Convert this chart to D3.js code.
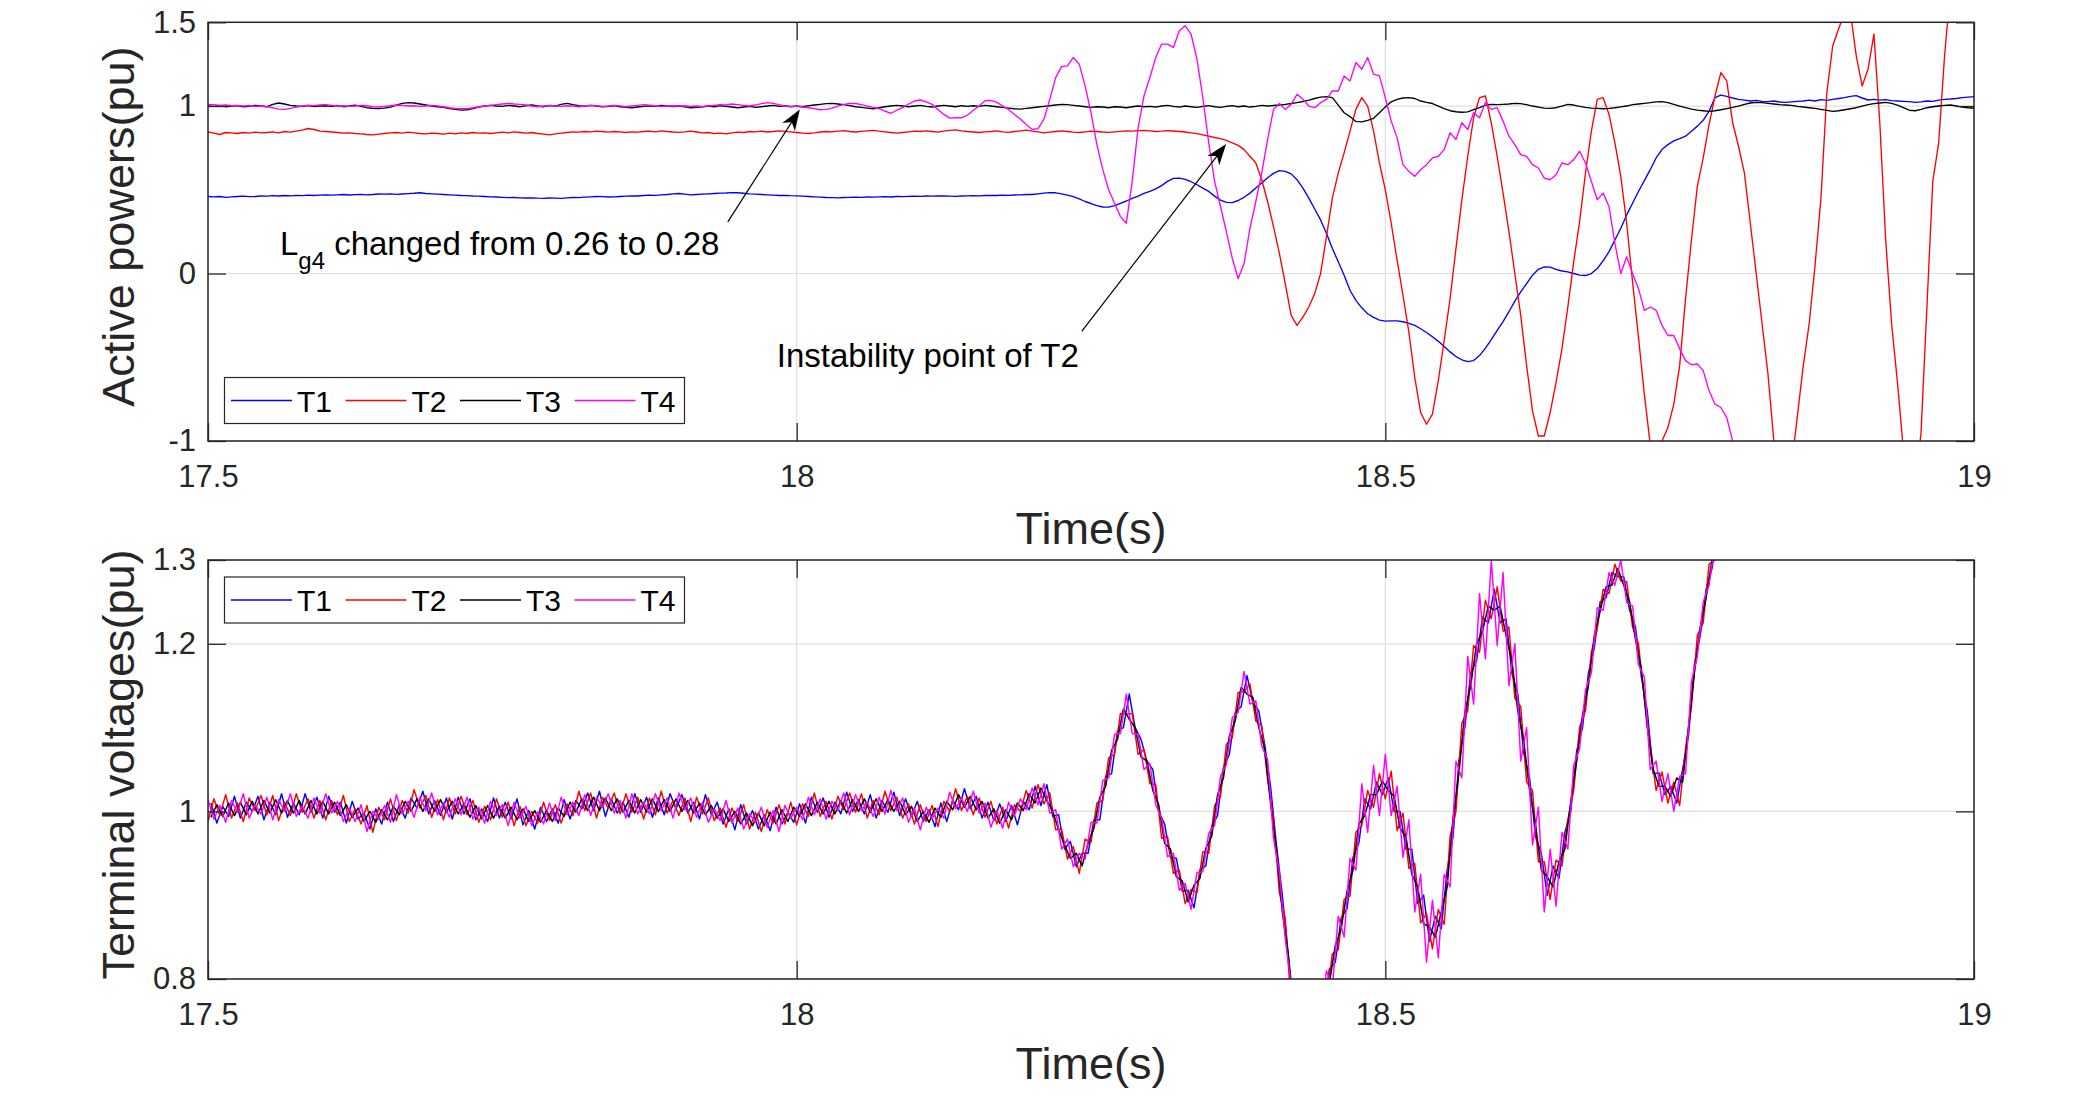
<!DOCTYPE html>
<html><head><meta charset="utf-8">
<script src="https://cdn.jsdelivr.net/npm/d3@7"></script>
<style>
body{margin:0;background:#fff}
text{font-family:"Liberation Sans",Arial,Helvetica,sans-serif}
</style>
</head><body>
<svg id="c" width="2080" height="1107"></svg>
<script>
// ---------------- DATA ----------------
const tStart = 17.5, tStep = 0.005;
const xTicks = [17.5, 18, 18.5, 19];
const pTicks = [-1, 0, 1, 1.5];
const vTicks = [0.8, 1, 1.2, 1.3];
const seriesNames = ["T1", "T2", "T3", "T4"];

// Active powers (pu), sampled every 0.005 s from 17.5 s
const p1 = [
.46,.458,.46,.455,.458,.46,.462,.459,.46,.463,
.462,.465,.463,.466,.464,.467,.465,.468,.466,.468,
.47,.468,.47,.472,.469,.471,.473,.47,.472,.475,
.474,.476,.473,.475,.477,.479,.482,.478,.476,.474,
.472,.47,.468,.466,.465,.463,.462,.46,.458,.457,
.455,.453,.454,.452,.451,.452,.45,.449,.451,.45,
.449,.452,.454,.453,.456,.458,.46,.459,.457,.458,
.46,.462,.464,.463,.466,.468,.467,.47,.472,.476,
.478,.474,.47,.472,.474,.476,.478,.48,.481,.483,
.482,.479,.476,.474,.472,.47,.468,.466,.467,.465,
.464,.462,.46,.458,.456,.454,.453,.452,.454,.455,
.456,.455,.457,.456,.458,.459,.457,.46,.459,.461,
.462,.461,.463,.462,.464,.463,.462,.461,.463,.464,
.465,.464,.466,.467,.466,.468,.467,.469,.47,.472,
.472,.476,.48,.483,.482,.476,.468,.459,.445,.43,
.418,.405,.397,.396,.405,.419,.433,.448,.462,.478,
.49,.505,.525,.55,.568,.57,.562,.548,.53,.51,
.49,.462,.438,.425,.423,.436,.455,.48,.51,.54,
.572,.598,.614,.61,.595,.56,.51,.45,.385,.32,
.24,.15,.07,-.01,-.1,-.16,-.205,-.24,-.262,-.278,
-.284,-.283,-.283,-.288,-.298,-.31,-.33,-.352,-.378,-.405,
-.436,-.468,-.496,-.515,-.526,-.52,-.49,-.445,-.395,-.34,
-.287,-.228,-.165,-.11,-.06,-.01,.025,.04,.038,.025,
.015,.01,0,-.01,-.012,0,.03,.075,.131,.2,
.27,.35,.42,.49,.555,.62,.69,.74,.77,.792,
.805,.82,.85,.88,.915,.97,1.05,1.065,1.058,1.048,
1.04,1.035,1.03,1.034,1.028,1.026,1.03,1.024,1.022,1.025,
1.028,1.03,1.035,1.03,1.038,1.034,1.04,1.045,1.05,1.058,
1.062,1.048,1.036,1.04,1.035,1.038,1.032,1.03,1.028,1.026,
1.022,1.025,1.03,1.028,1.035,1.04,1.042,1.045,1.05,1.053,
1.056];
const p2 = [
.845,.838,.83,.842,.84,.836,.842,.838,.844,.84,
.842,.846,.84,.848,.844,.85,.856,.866,.86,.85,
.848,.845,.842,.838,.84,.836,.834,.83,.828,.832,
.836,.84,.842,.838,.844,.84,.836,.834,.838,.836,
.832,.838,.834,.84,.836,.842,.838,.84,.836,.84,
.844,.84,.846,.842,.838,.842,.836,.832,.828,.834,
.838,.842,.846,.844,.848,.846,.85,.848,.844,.848,
.846,.842,.846,.844,.848,.85,.846,.852,.848,.845,
.843,.846,.85,.845,.84,.842,.835,.838,.834,.84,
.844,.842,.848,.846,.85,.845,.848,.852,.849,.846,
.842,.838,.836,.84,.845,.848,.846,.85,.853,.848,
.845,.849,.852,.855,.85,.846,.842,.838,.842,.846,
.85,.848,.852,.848,.844,.85,.855,.858,.852,.848,
.845,.842,.846,.848,.852,.846,.843,.848,.852,.856,
.85,.846,.84,.844,.848,.852,.848,.844,.842,.846,
.85,.848,.845,.843,.846,.849,.852,.85,.853,.855,
.852,.848,.85,.853,.851,.848,.845,.84,.835,.828,
.82,.812,.805,.795,.78,.765,.74,.7,.66,.56,
.43,.28,.12,-.06,-.25,-.31,-.26,-.2,-.12,0,
.22,.45,.6,.72,.85,.98,1.05,1.0,.85,.66,
.5,.3,.08,-.13,-.35,-.62,-.83,-.9,-.84,-.64,
-.4,-.15,.15,.44,.7,.93,1.05,1.06,.9,.7,
.48,.25,0,-.25,-.55,-.82,-.97,-.97,-.83,-.65,
-.45,-.2,.07,.31,.6,.85,1.04,1.05,.95,.78,
.58,.3,-.05,-.38,-.72,-1.02,-1.1,-1.0,-.92,-.78,
-.55,-.15,.2,.52,.69,.89,1.06,1.2,1.15,.9,
.76,.6,.3,0,-.3,-.6,-1.0,-1.2,-1.25,-1.15,
-.85,-.55,-.3,.05,.45,1.08,1.36,1.46,1.56,1.56,
1.3,1.12,1.22,1.43,.9,.2,-.3,-.65,-1.05,-1.3,
-1.3,-.95,-.2,.55,.78,1.3,1.7,1.9,2,2,
2];
const p3 = [
1.0,.998,1.004,.996,1.0,1.002,.995,.998,1.004,1.0,
.996,1.01,1.018,1.012,1.004,1.0,.998,1.003,.997,1.0,
1.002,.998,1.003,.996,1.0,1.005,.998,.99,.986,.985,
.988,.994,1.005,1.016,1.02,1.018,1.012,1.006,1.0,.996,
.992,.985,.98,.976,.978,.985,.994,1.0,1.004,1.0,
.998,1.004,1.0,.996,1.002,1.006,1.0,.996,1.003,1.0,
1.01,1.016,1.008,1.002,.998,1.004,1.0,.995,.998,1.002,
.996,.992,.99,.994,.998,1.002,.998,1.004,1.0,.997,
1.0,.995,.99,.992,.996,1.0,.996,1.002,.998,.994,
.99,.994,.998,.992,.996,1.0,1.004,.998,1.002,.996,
1.0,.996,1.002,1.006,1.01,1.014,1.016,1.012,1.008,1.002,
.996,.992,.988,.984,.99,.996,1.0,1.004,1.0,.996,
1.0,1.004,.998,.994,1.0,1.004,1.0,.996,1.002,.998,
1.002,.998,1.004,1.0,.996,.992,.988,.984,.982,.986,
.99,.994,.998,1.002,1.006,1.01,1.008,1.004,1.0,.996,
.992,.996,.994,.99,.996,.994,.99,.996,1.0,.996,
.998,.994,1.0,1.004,.998,.994,1.0,.996,.992,.998,
1.002,.996,.992,.998,1.002,.996,1.0,.994,.998,1.004,
1.0,1.003,1.006,1.01,1.015,1.02,1.027,1.035,1.045,1.053,
1.056,1.05,1.005,.96,.937,.908,.905,.915,.927,.96,
.995,1.025,1.04,1.048,1.05,1.045,1.03,1.022,1.015,1.0,
.985,.972,.966,.963,.965,.978,.99,1.005,1.01,1.008,
1.01,1.012,1.016,1.014,1.008,1.0,.994,.988,.986,.99,
1.0,1.01,1.006,.998,.992,.988,.986,.984,.986,.99,
.995,1.0,1.008,1.012,1.016,1.02,1.025,1.026,1.02,1.01,
1.0,.99,.982,.976,.972,.968,.972,.978,.985,.992,
1.0,1.01,1.018,1.022,1.02,1.016,1.012,1.008,1.006,1.004,
.998,.994,.99,.986,.98,.974,.968,.972,.978,.984,
.99,1.0,1.008,1.014,1.018,1.022,1.016,1.005,.99,.975,
.972,.98,.99,.996,1.0,1.004,1.006,1.0,.994,.99,
.987];
const p4 = [
1.01,1.008,1.004,1.006,1.002,1.004,1.0,1.003,.998,1.0,
.996,.99,.982,.98,.986,.994,1.0,1.004,1.002,1.006,
1.008,1.004,1.0,1.002,.998,1.0,1.004,1.002,.996,.994,
.998,1.002,1.006,1.004,1.0,1.002,.998,1.0,1.004,1.0,
.996,.99,.986,.984,.985,.99,.996,1.0,1.004,1.008,
1.012,1.015,1.012,1.01,1.006,1.0,.996,1.0,1.004,1.0,
.998,1.002,1.0,.996,1.0,1.004,1.002,.998,1.0,1.004,
1.0,.996,1.0,1.004,1.008,1.005,1.0,.997,1.0,1.002,
1.0,1.002,.998,1.0,.996,1.0,1.004,1.008,1.006,1.012,
1.008,1.004,1.0,1.006,1.014,1.02,1.016,1.008,1.0,.998,
.998,.994,.99,.985,.978,.98,.988,1.0,1.01,1.016,
1.015,1.008,1.0,.992,.984,.97,.957,.975,.99,1.012,
1.03,1.036,1.025,1.01,.98,.95,.928,.93,.93,.945,
.975,1.0,1.032,1.034,1.022,1.0,.98,.95,.923,.89,
.86,.865,.92,1.04,1.17,1.235,1.24,1.29,1.25,1.12,
.96,.77,.62,.5,.42,.34,.3,.55,.87,1.06,
1.17,1.29,1.37,1.37,1.35,1.45,1.48,1.43,1.28,1.05,
.78,.55,.4,.25,.09,-.03,.06,.27,.43,.6,
.8,.98,1.015,.98,1.01,1.07,1.04,1.0,.99,1.02,
1.04,1.09,1.09,1.18,1.15,1.26,1.22,1.29,1.19,1.18,
1.05,.91,.81,.65,.61,.58,.62,.65,.69,.7,
.74,.84,.8,.9,.86,.96,.93,1.02,.98,.99,
.91,.82,.77,.71,.7,.65,.63,.57,.56,.59,
.66,.65,.68,.73,.66,.55,.44,.48,.4,.18,
0,.1,0,-.09,-.22,-.2,-.22,-.31,-.37,-.37,
-.45,-.52,-.545,-.54,-.58,-.7,-.78,-.8,-.86,-1.0,
-1.1,null,null,null,null,null,null,null,null,null];

// Terminal voltages (pu)
const v1 = [
1.01,.986,1.006,.994,1.018,.992,1.011,1.0,1.018,.99,
1.011,.996,1.021,.993,1.01,.996,1.021,.999,1.017,.992,
1.018,.999,1.011,.986,1.012,.991,.998,.979,1.003,.985,
1.011,.988,1.008,.992,1.016,1.004,1.024,.997,1.013,.995,
1.016,.991,1.017,.997,1.015,.99,1.003,.988,1.016,.992,
1.011,.991,1.015,.984,1.001,.979,1.005,.988,1.003,.986,
1.014,.991,1.013,1.003,1.022,1.001,1.024,.994,1.015,.998,
1.011,.993,1.021,.999,1.017,.993,1.016,.996,1.021,1.003,
1.02,.998,1.011,.991,1.02,.996,1.011,.985,1.003,.978,
1.008,.985,1.001,.979,.996,.977,1.005,.985,.999,.987,
1.009,.986,1.017,.999,1.016,.993,1.011,.997,1.023,1.0,
1.014,.997,1.02,.992,1.013,.999,1.023,.995,1.015,.994,
1.012,.988,1.002,.982,1.01,.988,1.013,1.002,1.027,1.003,
1.018,.992,1.011,.989,1.009,.988,1.007,.984,1.012,1.002,
1.03,1.007,1.032,.994,.996,.955,.964,.934,.95,.95,
.99,.99,1.042,1.045,1.096,1.1,1.14,1.1,1.086,1.06,
1.05,1.0,.985,.945,.944,.905,.906,.885,.93,.935,
.982,.995,1.052,1.068,1.118,1.125,1.162,1.13,1.12,1.08,
1.03,.96,.9,.83,.765,.7,.705,.7,.755,.762,
.812,.82,.873,.884,.945,.962,1.015,1.003,1.035,1.02,
1.04,1.0,1.0,.955,.955,.89,.9,.845,.875,.86,
.93,.97,1.06,1.1,1.165,1.18,1.232,1.225,1.265,1.225,
1.23,1.165,1.14,1.07,1.04,.97,.95,.9,.935,.92,
.975,1.0,1.072,1.1,1.165,1.195,1.25,1.255,1.285,1.28,
1.28,1.24,1.22,1.16,1.12,1.045,1.046,1.02,1.03,1.01,
1.05,1.09,1.175,1.21,1.265,1.29,1.34,1.38,1.42];
const v2 = [
.988,1.015,.995,1.02,.992,1.01,.988,1.016,1.001,1.019,
.996,1.019,.989,1.011,.995,1.021,.999,1.015,.992,1.013,
.99,1.013,.996,1.019,.988,1.003,.985,1.007,.975,1.005,
.99,1.015,.989,1.013,.998,1.026,1.004,1.019,.993,1.014,
.99,1.016,.997,1.018,.996,1.013,.987,1.006,.99,1.015,
.993,1.011,.983,1.006,.983,1.0,.986,1.011,.989,1.008,
.986,1.009,.995,1.024,1.001,1.022,.992,1.017,1.004,1.022,
.997,1.021,.999,1.017,.991,1.016,.996,1.024,.998,1.013,
.995,1.016,.988,1.017,.997,1.016,.989,1.004,.981,1.004,
.988,1.008,.979,.999,.976,1.002,.986,1.008,.985,1.011,
.984,1.009,.994,1.022,.994,1.012,.991,1.018,1.002,1.022,
.999,1.021,.992,1.013,.996,1.024,1.001,1.017,.992,1.009,
.985,1.008,.988,1.007,.982,1.012,1.0,1.027,1.001,1.018,
.996,1.016,.993,1.012,.985,1.005,.98,1.008,1.0,1.025,
1.004,1.032,1.009,1.022,.978,.979,.943,.958,.926,.967,
.963,1.01,1.013,1.064,1.068,1.117,1.116,1.117,1.068,1.074,
1.033,1.032,.968,.97,.926,.93,.89,.907,.903,.952,
.95,1.007,1.018,1.08,1.088,1.142,1.143,1.152,1.108,1.102,
1.038,.992,.903,.872,.768,.732,.678,.712,.718,.772,
.775,.83,.835,.895,.899,.975,.983,1.025,1.005,1.045,
1.015,1.048,.977,.998,.932,.938,.867,.878,.836,.883,
.865,.97,1.0,1.105,1.12,1.198,1.19,1.252,1.23,1.268,
1.215,1.22,1.135,1.125,1.035,1.025,.94,.94,.895,.942,
.935,.99,1.025,1.1,1.12,1.19,1.218,1.265,1.26,1.295,
1.275,1.274,1.22,1.2,1.135,1.08,1.025,1.047,1.01,1.035,
1.007,1.075,1.125,1.21,1.225,1.295,1.3,1.36,1.4];
const v3 = [
.993,1.008,.994,1.01,.995,1.011,.996,1.012,.997,1.013,
.998,1.014,.998,1.013,.998,1.013,.997,1.013,.997,1.012,
.997,1.011,.995,1.008,.993,1.004,.988,1.0,.987,1.002,
.99,1.006,.996,1.012,1.0,1.015,1.0,1.015,1.0,1.014,
.999,1.012,.997,1.009,.993,1.007,.991,1.007,.992,1.006,
.992,1.005,.99,1.003,.988,1.001,.987,1.001,.988,1.004,
.994,1.011,.999,1.015,1.001,1.017,1.001,1.016,1.001,1.015,
.999,1.013,.998,1.014,.999,1.015,1.0,1.014,1.0,1.015,
1.0,1.013,.998,1.01,.996,1.007,.992,1.003,.988,1.0,
.985,.998,.983,.998,.983,.999,.985,1.002,.988,1.005,
.994,1.009,.995,1.011,.997,1.012,.997,1.013,.998,1.014,
1.0,1.015,.999,1.015,1.0,1.014,1.0,1.012,.996,1.006,
.988,1.0,.987,1.004,.993,1.012,1.002,1.02,1.005,1.018,
1.002,1.012,.992,1.003,.986,1.002,.99,1.01,1.001,1.021,
1.01,1.028,1.013,1.0,.978,.96,.944,.95,.935,.962,
.98,1.017,1.03,1.073,1.086,1.122,1.11,1.1,1.065,1.06,
1.025,1.008,.962,.955,.922,.917,.892,.912,.92,.956,
.97,1.02,1.04,1.09,1.108,1.148,1.14,1.136,1.1,1.075,
1.01,.955,.88,.83,.745,.71,.69,.72,.74,.78,
.795,.84,.86,.905,.93,.985,.995,1.02,1.02,1.036,
1.025,1.018,.98,.97,.925,.91,.866,.862,.85,.88,
.91,.992,1.045,1.118,1.15,1.2,1.215,1.245,1.24,1.245,
1.21,1.18,1.12,1.085,1.025,.985,.93,.922,.91,.94,
.955,1.012,1.06,1.115,1.15,1.21,1.24,1.268,1.27,1.29,
1.27,1.25,1.205,1.17,1.1,1.05,1.03,1.03,1.018,1.04,
1.035,1.1,1.165,1.22,1.255,1.3,1.33,1.38,1.42];
const v4 = [
1.014,.991,1.007,.987,1.013,.999,1.021,.992,1.008,.997,
1.017,.99,1.014,1.0,1.021,.994,1.006,.992,1.016,.998,
1.021,.998,1.012,.988,1.004,.988,1.008,.976,1.0,.991,
1.007,.987,1.02,.997,1.012,.993,1.017,1.001,1.022,.996,
1.01,.993,1.015,.996,1.017,.991,1.005,.986,1.012,.995,
1.008,.983,1.011,.992,1.006,.983,.999,.985,1.01,.989,
1.017,.996,1.011,.995,1.02,.995,1.017,1.005,1.021,.998,
1.013,.992,1.021,.997,1.011,.997,1.021,1.001,1.016,.992,
1.022,1.002,1.016,.993,1.011,.987,1.003,.989,1.013,.986,
1.004,.979,.997,.987,1.005,.981,1.001,.976,1.007,.992,
1.005,.99,1.017,.996,1.015,.991,1.012,1.001,1.022,.996,
1.02,1.001,1.011,.994,1.017,.997,1.025,1.001,1.016,.987,
1.004,.978,1.005,.991,1.004,.992,1.023,1.003,1.016,1.0,
1.024,.998,1.01,.981,1.001,.98,1.011,.995,1.015,1.002,
1.028,1.008,1.033,.998,1.002,.955,.967,.934,.95,.943,
.987,.986,1.037,1.04,1.092,1.093,1.14,1.093,1.092,1.05,
1.057,1.008,.992,.946,.95,.906,.914,.883,.927,.928,
.974,.983,1.042,1.056,1.112,1.118,1.167,1.128,1.132,1.078,
1.062,.968,.927,.848,.792,.708,.702,.688,.742,.748,
.81,.79,.875,.85,.944,.93,1.033,.975,1.055,.995,
1.068,.995,1.03,.945,.99,.88,.925,.82,.894,.825,
.925,.91,1.06,1.04,1.185,1.128,1.26,1.182,1.3,1.198,
1.285,1.15,1.2,1.06,1.1,.96,1.005,.88,.955,.887,
.975,.955,1.055,1.075,1.145,1.165,1.243,1.24,1.285,1.27,
1.3,1.249,1.245,1.175,1.16,1.05,1.06,1.012,1.045,1.0,
1.042,1.045,1.155,1.185,1.25,1.27,1.32,1.36,1.4];

// annotation anchors in data coordinates [time, value]
const ann1Text = [17.5611, 0.112], ann1Tail = [17.9415, 0.308], ann1Tip = [18.0027, 0.98];
const ann2Text = [17.9831, -0.558], ann2Tail = [18.2421, -0.346], ann2Tip = [18.3648, 0.773];

// ---------------- DRAW ----------------
const colors = ["#0000ff", "#ff0000", "#000000", "#ff00ff"];
const axisCol = "#262626", gridCol = "#dfdfdf";
const L = 208, R = 1974;
const svg = d3.select("#c");
svg.append("rect").attr("width", 2080).attr("height", 1107).attr("fill", "#fff");
const x = d3.scaleLinear().domain([17.5, 19]).range([L, R]);
const fmt = d => String(d);

const tA = p1.map((_, i) => tStart + i * tStep);
const tB = v2.map((_, i) => tStart + i * tStep);
const tC = v1.map((_, i) => tStart + tStep / 2 + i * tStep);

const panels = [
  {top: 22.3, bottom: 441, dom: [-1, 1.5], ticks: pTicks, ylab: "Active powers(pu)", lw: 1.35,
   data: [[tA, p1], [tA, p2], [tA, p3], [tA, p4]], legY: 377.5, xlabY: 544},
  {top: 560, bottom: 979, dom: [0.8, 1.3], ticks: vTicks, ylab: "Terminal voltages(pu)", lw: 1.45,
   data: [[tC, v1], [tB, v2], [tC, v3], [tB, v4]], legY: 577, xlabY: 1079}
];

panels.forEach((pn, k) => {
  const y = d3.scaleLinear().domain(pn.dom).range([pn.bottom, pn.top]);
  pn.y = y;
  const g = svg.append("g");
  g.selectAll(".gx").data(xTicks).enter().append("line")
    .attr("x1", d => x(d)).attr("x2", d => x(d)).attr("y1", pn.top).attr("y2", pn.bottom)
    .attr("stroke", gridCol).attr("stroke-width", 1.2);
  g.selectAll(".gy").data(pn.ticks).enter().append("line")
    .attr("x1", L).attr("x2", R).attr("y1", d => y(d)).attr("y2", d => y(d))
    .attr("stroke", gridCol).attr("stroke-width", 1.2);
  const cid = "clip" + k;
  svg.append("clipPath").attr("id", cid).append("rect")
    .attr("x", L).attr("y", pn.top).attr("width", R - L).attr("height", pn.bottom - pn.top);
  const line = d3.line().defined(d => d[1] != null).x(d => x(d[0])).y(d => y(d[1]));
  const lg = g.append("g").attr("clip-path", `url(#${cid})`);
  pn.data.forEach((s, i) => {
    const pts = s[1].map((v, j) => [s[0][j], v]);
    lg.append("path").attr("d", line(pts)).attr("fill", "none")
      .attr("stroke", colors[i]).attr("stroke-width", pn.lw).attr("stroke-linejoin", "round");
  });
  const style = sel => {
    sel.select(".domain").remove();
    sel.selectAll("line").attr("stroke", axisCol).attr("stroke-width", 1.3);
    sel.selectAll("text").attr("fill", axisCol).attr("font-size", 31)
      .attr("font-family", '"Liberation Sans",Arial,sans-serif');
  };
  g.append("g").attr("transform", `translate(0,${pn.bottom})`)
    .call(d3.axisBottom(x).tickValues(xTicks).tickFormat(fmt).tickSizeInner(-18).tickSizeOuter(0).tickPadding(24)).call(style);
  g.append("g").attr("transform", `translate(0,${pn.top})`)
    .call(d3.axisTop(x).tickValues(xTicks).tickFormat("").tickSizeInner(-18).tickSizeOuter(0)).call(style);
  g.append("g").attr("transform", `translate(${L},0)`)
    .call(d3.axisLeft(y).tickValues(pn.ticks).tickFormat(fmt).tickSizeInner(-18).tickSizeOuter(0).tickPadding(12)).call(style);
  g.append("g").attr("transform", `translate(${R},0)`)
    .call(d3.axisRight(y).tickValues(pn.ticks).tickFormat("").tickSizeInner(-18).tickSizeOuter(0)).call(style);
  g.append("rect").attr("x", L).attr("y", pn.top).attr("width", R - L).attr("height", pn.bottom - pn.top)
    .attr("fill", "none").attr("stroke", axisCol).attr("stroke-width", 1.5);
  g.append("text").attr("x", (L + R) / 2).attr("y", pn.xlabY).attr("text-anchor", "middle")
    .attr("font-size", 45).attr("fill", axisCol).text("Time(s)");
  g.append("text").attr("transform", `translate(134,${(pn.top + pn.bottom) / 2 - 5}) rotate(-90)`)
    .attr("text-anchor", "middle").attr("font-size", 45).attr("fill", axisCol).text(pn.ylab);
  const leg = g.append("g");
  leg.append("rect").attr("x", 224.5).attr("y", pn.legY).attr("width", 460).attr("height", 46)
    .attr("fill", "#fff").attr("stroke", axisCol).attr("stroke-width", 1.2);
  seriesNames.forEach((nm, i) => {
    const x0 = 231 + 114.5 * i, ly = pn.legY + 23;
    leg.append("line").attr("x1", x0).attr("x2", x0 + 61).attr("y1", ly).attr("y2", ly)
      .attr("stroke", colors[i]).attr("stroke-width", 1.3);
    leg.append("text").attr("x", x0 + 66).attr("y", ly + 11).attr("font-size", 30).attr("fill", "#000").text(nm);
  });
});

const yP = panels[0].y;
const P = d => [x(d[0]), yP(d[1])];
function arrow(tail, tip) {
  const [x1, y1] = P(tail), [x2, y2] = P(tip);
  const ang = Math.atan2(y2 - y1, x2 - x1), Lh = 21, Wh = 7.5;
  const ux = Math.cos(ang), uy = Math.sin(ang), nx = -uy, ny = ux;
  const bx = x2 - ux * Lh, by = y2 - uy * Lh;
  const nxp = x2 - ux * Lh * 0.72, nyp = y2 - uy * Lh * 0.72;
  svg.append("line").attr("x1", x1).attr("y1", y1).attr("x2", nxp).attr("y2", nyp)
    .attr("stroke", "#000").attr("stroke-width", 1.2);
  svg.append("path").attr("d",
    `M${x2},${y2}L${bx + nx * Wh},${by + ny * Wh}L${nxp},${nyp}L${bx - nx * Wh},${by - ny * Wh}Z`)
    .attr("fill", "#000");
}
arrow(ann1Tail, ann1Tip);
arrow(ann2Tail, ann2Tip);
const a1 = P(ann1Text);
const t1 = svg.append("text").attr("x", a1[0]).attr("y", a1[1]).attr("font-size", 33).attr("fill", "#000");
t1.append("tspan").text("L");
t1.append("tspan").attr("font-size", 24).attr("dy", 14).text("g4");
t1.append("tspan").attr("dy", -14).text(" changed from 0.26 to 0.28");
const a2 = P(ann2Text);
svg.append("text").attr("x", a2[0]).attr("y", a2[1]).attr("font-size", 33).attr("fill", "#000")
  .text("Instability point of T2");
</script>
</body></html>
